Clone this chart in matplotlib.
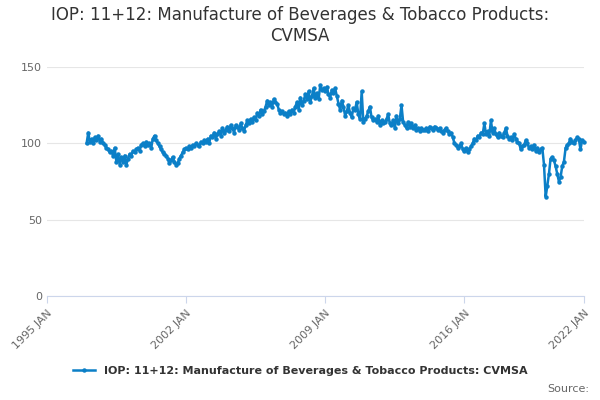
import numpy as np
import pandas as pd
import matplotlib.pyplot as plt

title = 'IOP: 11+12: Manufacture of Beverages & Tobacco Products:\nCVMSA'
series_name = 'IOP: 11+12: Manufacture of Beverages & Tobacco Products: CVMSA'

values = [
    100, 107, 101, 103, 100, 104, 102, 105, 101, 103, 100, 99,   # 1997
    97, 96, 94, 95, 92, 97, 88, 93, 86, 91, 88, 92,             # 1998
    86, 90, 93, 92, 95, 94, 96, 97, 95, 99, 100, 98,            # 1999
    101, 99, 100, 97, 103, 105, 102, 100, 98, 96, 94, 93,       # 2000
    92, 90, 87, 89, 91, 88, 86, 87, 90, 92, 94, 96,             # 2001
    97, 96, 98, 97, 99, 98, 100, 99, 98, 101, 100, 102,         # 2002
    101, 103, 100, 105, 104, 107, 103, 106, 108, 105, 110, 107, # 2003
    109, 111, 108, 112, 110, 107, 112, 111, 109, 113, 110, 108, # 2004
    112, 115, 113, 116, 114, 117, 115, 120, 118, 122, 119, 121, # 2005
    124, 128, 125, 127, 124, 129, 127, 126, 122, 120, 121, 119, # 2006
    120, 118, 121, 119, 122, 120, 124, 127, 122, 130, 125, 128, # 2007
    132, 129, 134, 127, 131, 136, 130, 133, 129, 138, 135, 136, # 2008
    134, 137, 132, 130, 135, 133, 136, 131, 126, 122, 128, 124, # 2009
    118, 121, 125, 120, 117, 123, 122, 127, 119, 116, 134, 114, # 2010
    116, 118, 121, 124, 117, 115, 116, 114, 118, 112, 115, 113, # 2011
    114, 116, 119, 113, 112, 115, 110, 118, 113, 116, 125, 114, # 2012
    112, 110, 114, 111, 113, 110, 112, 109, 110, 108, 110, 109, # 2013
    109, 110, 108, 111, 110, 109, 111, 110, 109, 110, 108, 107, # 2014
    109, 110, 108, 106, 107, 104, 100, 99, 97, 98, 100, 96,     # 2015
    95, 97, 94, 96, 98, 100, 103, 102, 105, 104, 107, 106,      # 2016
    113, 106, 108, 105, 115, 107, 110, 106, 104, 107, 105, 104, # 2017
    107, 110, 105, 103, 104, 102, 106, 103, 101, 100, 96, 98,   # 2018
    99, 102, 100, 97, 98, 96, 99, 95, 97, 94, 96, 97,           # 2019
    86, 65, 72, 80, 90, 91, 89, 85, 80, 75, 78, 85,             # 2020
    88, 97, 99, 100, 103, 101, 100, 102, 104, 103, 96, 102,     # 2021
    101,                                                        # 2022
]
dates = pd.date_range('1997-01-01', periods=len(values), freq='MS')
tick_years = [1995, 2002, 2009, 2016, 2022]

color = '#0b7fc7'
fig = plt.figure(figsize=(6, 4), dpi=100)
ax = fig.add_axes([0.078, 0.26, 0.895, 0.5725])
ax.plot(dates, values, color=color, lw=1.8, marker='o', ms=2.2, label=series_name,
        clip_on=False)

ax.set_ylim(0, 150)
ax.set_yticks([0, 50, 100, 150])
ax.set_xlim(pd.Timestamp('1995-01-01'), pd.Timestamp('2022-01-01'))
ax.set_xticks([pd.Timestamp(f'{y}-01-01') for y in tick_years])
ax.set_xticklabels([f'{y} JAN' for y in tick_years], rotation=45, ha='right',
                   rotation_mode='anchor', fontsize=8, color='#666666')
ax.tick_params(axis='y', labelsize=8, labelcolor='#666666', length=0)
ax.tick_params(axis='x', length=5, color='#ccd6eb')
ax.grid(axis='y', color='#e6e6e6', lw=0.8)
for s in ['top', 'right', 'left']:
    ax.spines[s].set_visible(False)
ax.spines['bottom'].set_color('#ccd6eb')
ax.set_axisbelow(True)

fig.suptitle(title, fontsize=12, color='#333333', y=0.985)
leg = fig.legend(loc='lower center', bbox_to_anchor=(0.5, 0.035), frameon=False,
                 prop={'size': 8, 'weight': 'bold'}, handlelength=2)
for t in leg.get_texts():
    t.set_color('#333333')
fig.text(0.982, 0.015, 'Source:', ha='right', va='bottom', fontsize=8, color='#666666')

fig.savefig('out.png')
